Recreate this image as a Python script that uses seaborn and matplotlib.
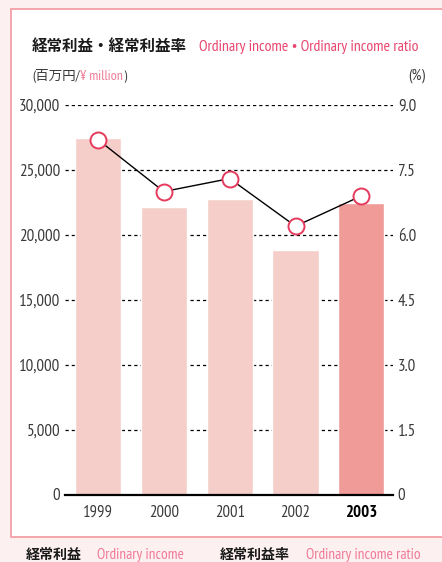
import matplotlib
matplotlib.use('Agg')
import matplotlib.pyplot as plt
import seaborn as sns
import pandas as pd
from matplotlib import font_manager as fm
from matplotlib.patches import Rectangle

# ---------------- data ----------------
years = ['1999', '2000', '2001', '2002', '2003']
income = [27450, 22150, 22750, 18800, 22450]          # 百万円
ratio = [8.2, 7.0, 7.3, 6.2, 6.9]                     # %
left_ticks = [0, 5000, 10000, 15000, 20000, 25000, 30000]
left_labels = ['0', '5,000', '10,000', '15,000', '20,000', '25,000', '30,000']
right_ticks = [0, 1.5, 3.0, 4.5, 6.0, 7.5, 9.0]
right_labels = ['0', '1.5', '3.0', '4.5', '6.0', '7.5', '9.0']
bar_colors = ['#f6cec9', '#f6cec9', '#f6cec9', '#f6cec9', '#f09b98']

title_jp = '経常利益・経常利益率'
title_en = 'Ordinary income • Ordinary income ratio'
unit_left = ['(百万円/', '¥ million', ')']
unit_right = '(%)'
legend_items = [('経常利益', 'Ordinary income'), ('経常利益率', 'Ordinary income ratio')]

# ---------------- style ----------------
sns.set_theme(style='white')
names = {f.name for f in fm.fontManager.ttflist}
narrow = 'Liberation Sans'
for cand in ['PT Sans Narrow', 'Roboto Condensed', 'Fira Sans Condensed',
             'Open Sans Condensed', 'Archivo Narrow']:
    if cand in names:
        narrow = cand
        break
jp = 'Noto Sans CJK JP'
plt.rcParams['font.family'] = [narrow, jp, 'DejaVu Sans']

PINK = '#e8466e'
PINK_L = '#f07a95'
GRAY = '#3a3a3a'

W, H = 442, 562
fig = plt.figure(figsize=(W / 100, H / 100), dpi=100)
fig.patch.set_facecolor('#fdf0f0')
fig.add_artist(Rectangle((11 / W, 1 - 537 / H), 1.0, (537 - 9) / H,
                         transform=fig.transFigure, facecolor='white',
                         edgecolor='#f3a0a6', lw=1.3, zorder=0))

def fx(px):
    return px / W

def fy(py):
    return 1 - py / H

ax = fig.add_axes([fx(65), fy(494.5), (393 - 65) / W, (494.5 - 105) / H])
ax.set_facecolor('none')
df = pd.DataFrame({'year': years, 'income': income})
sns.barplot(data=df, x='year', y='income', hue='year', palette=bar_colors,
            legend=False, width=0.7, saturation=1, ax=ax, zorder=2)
ax.set_xlim(-0.5, 4.48)
ax.set_ylim(0, 30000)
ax.set_xlabel('')
ax.set_ylabel('')
ax.set_yticks(left_ticks, left_labels)
ax.tick_params(axis='y', length=0, pad=3.5, labelsize=12, labelcolor=GRAY)
ax.tick_params(axis='x', length=0, pad=7.5, labelsize=12.5, labelcolor=GRAY)
ax.set_axisbelow(True)
ax.yaxis.grid(True, color='black', lw=0.9, linestyle=(0, (2.6, 2.4)))
for s in ['left', 'right', 'top']:
    ax.spines[s].set_visible(False)
ax.spines['bottom'].set_color('black')
ax.spines['bottom'].set_linewidth(1.6)
ax.spines['bottom'].set_zorder(5)

ax2 = ax.twinx()
sns.lineplot(x=list(range(len(years))), y=ratio, ax=ax2, color='black', lw=1.0,
             marker='o', markersize=11.5, markerfacecolor='white',
             markeredgecolor='#e63a5c', markeredgewidth=1.4, zorder=6)
ax2.set_ylim(0, 9)
ax2.set_xlim(-0.5, 4.48)
ax2.set_yticks(right_ticks, right_labels)
ax2.tick_params(axis='y', length=0, pad=3.5, labelsize=12, labelcolor=GRAY)
for s in ['left', 'right', 'top', 'bottom']:
    ax2.spines[s].set_visible(False)
ax2.grid(False)
ax2.set_ylabel('')

# ---------------- texts ----------------
t_jp = fig.text(fx(32), fy(51), title_jp, family=[jp], fontweight='bold',
                fontsize=11, color='#1a1a1a', va='baseline')
t_en = fig.text(fx(199), fy(51), title_en, color=PINK, fontsize=12, va='baseline')
u1 = fig.text(fx(32), fy(80), unit_left[0], family=[narrow, jp], fontsize=9,
              color=GRAY, va='baseline')
u2 = fig.text(fx(80), fy(80), unit_left[1], color=PINK_L, fontsize=9.5, va='baseline')
u3 = fig.text(fx(123), fy(80), unit_left[2], color=GRAY, fontsize=9.5, va='baseline')
ur = fig.text(fx(408), fy(80), unit_right, color=GRAY, fontsize=9.5, va='baseline')

leg_x = [(26, 97), (220, 306)]
leg_w = [(56, 87), (70, 114)]
leg_texts = []
for (jpt, ent), (xj, xe) in zip(legend_items, leg_x):
    a = fig.text(fx(xj), fy(559), jpt, family=[jp], fontweight='bold', fontsize=10,
                 color='#1a1a1a', va='baseline')
    b = fig.text(fx(xe), fy(559), ent, color=PINK_L, fontsize=11, va='baseline')
    leg_texts.append((a, b))

fig.canvas.draw()
r = fig.canvas.get_renderer()

def fit(t, w, cap=None):
    bb = t.get_window_extent(r)
    if bb.width > 0:
        s = t.get_fontsize() * w / bb.width
        if cap:
            s = min(s, cap)
        t.set_fontsize(s)

fit(t_jp, 155)
fit(t_en, 220, cap=14)
fit(u1, 48)
fit(u2, 43, cap=11)
fit(ur, 19, cap=11)
for (a, b), (wj, we) in zip(leg_texts, leg_w):
    fit(a, wj)
    fit(b, we, cap=13)

# tick label sizes matched to reference widths
ylab = [l for l in ax.get_yticklabels() if l.get_text() == '30,000'][0]
w0 = ylab.get_window_extent(r).width
ys = 12 * 41 / w0 if w0 > 0 else 12
ax.tick_params(axis='y', labelsize=ys)
ax2.tick_params(axis='y', labelsize=ys)
xlab = ax.get_xticklabels()[0]
w1 = xlab.get_window_extent(r).width
xs = 12.5 * 30 / w1 if w1 > 0 else 12.5
ax.tick_params(axis='x', labelsize=xs)
for lab in ax.get_xticklabels():
    if lab.get_text() == '2003':
        lab.set_fontweight('bold')
        lab.set_color('black')

fig.savefig('out.png', dpi=100, facecolor=fig.get_facecolor())
